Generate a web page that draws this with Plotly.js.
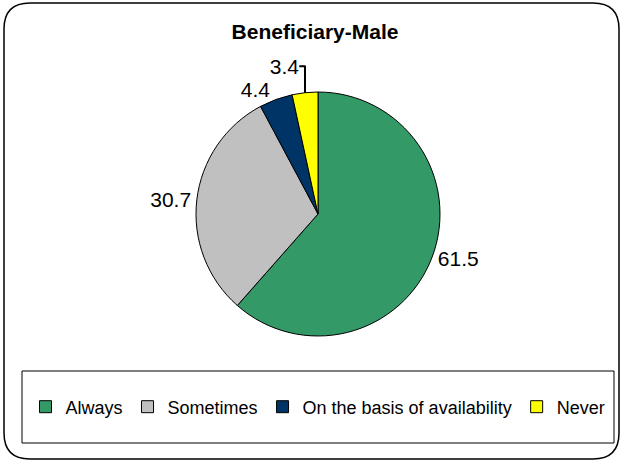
<!DOCTYPE html>
<html>
<head>
<meta charset="utf-8">
<script src="https://cdn.plot.ly/plotly-3.0.1.min.js"></script>
<style>html,body{margin:0;padding:0;background:#fff;}#chart{width:621px;height:462px;}</style>
</head>
<body>
<div id="chart"></div>
<script>
const categories = ["Always", "Sometimes", "On the basis of availability", "Never"];
const values = [61.5, 30.7, 4.4, 3.4];
const colors = ["#339966", "#C0C0C0", "#003366", "#FFFF00"];
const chartTitle = "Beneficiary-Male";

const W = 621, H = 462;
const px = v => v / W, py = v => 1 - v / H;

// rounded outer frame path in paper coords
function roundedRect(x0, y0, x1, y1, r) {
  const rx = r / W, ry = r / H;
  const L = px(x0), R = px(x1), T = py(y0), B = py(y1);
  return `M${L + rx},${T} L${R - rx},${T} Q${R},${T} ${R},${T - ry} L${R},${B + ry} Q${R},${B} ${R - rx},${B} L${L + rx},${B} Q${L},${B} ${L},${B + ry} L${L},${T - ry} Q${L},${T} ${L + rx},${T} Z`;
}

const trace = {
  type: "pie",
  labels: categories,
  values: values,
  sort: false,
  direction: "clockwise",
  rotation: 0,
  marker: { colors: colors, line: { color: "#000000", width: 1 } },
  textinfo: "value",
  texttemplate: "%{value}",
  textposition: "outside",
  outsidetextfont: { family: "Arial, Liberation Sans, sans-serif", size: 21, color: "#000" },
  hoverinfo: "label+value",
  domain: { x: [px(196), px(440)], y: [py(336), py(92)] },
  automargin: false
};

const layout = {
  width: W, height: H,
  margin: { l: 0, r: 0, t: 0, b: 0 },
  paper_bgcolor: "#fff",
  font: { family: "Arial, Liberation Sans, sans-serif", color: "#000" },
  title: {
    text: "<b>" + chartTitle + "</b>",
    font: { size: 21, family: "Arial, Liberation Sans, sans-serif", color: "#000" },
    x: px(315), xanchor: "center", y: py(32), yanchor: "middle", xref: "paper", yref: "paper"
  },
  showlegend: true,
  legend: {
    orientation: "h",
    x: px(318), xanchor: "center",
    y: py(407), yanchor: "middle",
    font: { size: 18, color: "#000" },
    bgcolor: "rgba(0,0,0,0)",
    traceorder: "normal",
    itemclick: false
  },
  shapes: [
    { type: "path", xref: "paper", yref: "paper", path: roundedRect(4, 3, 619, 459, 26), line: { color: "#000", width: 1.5 }, fillcolor: "rgba(0,0,0,0)" },
    { type: "rect", xref: "paper", yref: "paper", x0: px(22), x1: px(614), y0: py(443), y1: py(371), line: { color: "#000", width: 1 }, fillcolor: "rgba(0,0,0,0)" }
  ]
};

Plotly.newPlot("chart", [trace], layout, { staticPlot: true, displayModeBar: false });
</script>
</body>
</html>
